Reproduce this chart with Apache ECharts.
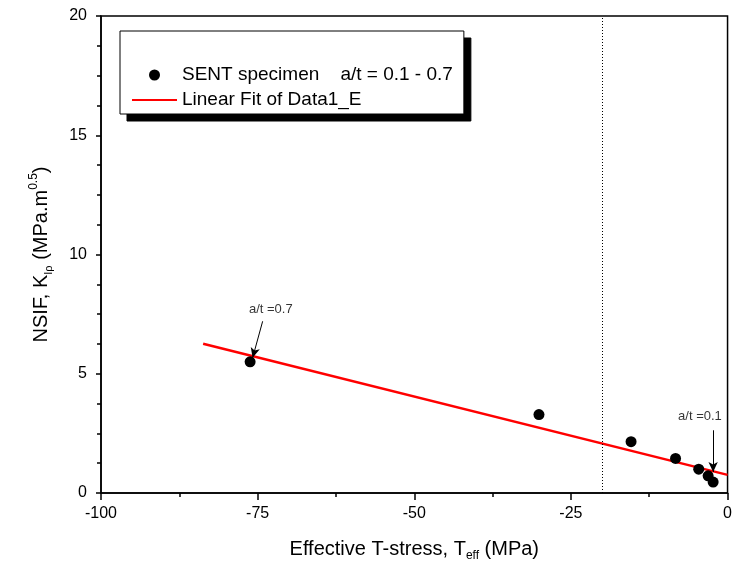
<!DOCTYPE html>
<html>
<head>
<meta charset="utf-8">
<script src="https://cdn.jsdelivr.net/npm/echarts@6/dist/echarts.min.js"></script>
<style>
html,body{margin:0;padding:0;background:#fff;}
#chart{width:735px;height:567px;}
</style>
</head>
<body>
<div id="chart"></div>
<script>
// ---- data ----
const teff = [-76.2, -30.1, -15.4, -8.3, -4.6, -3.1, -2.3];
const nsif = [5.50, 3.29, 2.15, 1.45, 1.00, 0.72, 0.46];
const fitX = [-83.7, 0];
const fitY = [6.26, 0.76];
const xTickValues = [-100, -75, -50, -25, 0];
const yTickValues = [0, 5, 10, 15, 20];
const refLineX = -20;
const annLabels = ['a/t =0.7', 'a/t =0.1'];
const annLabelX = [-72.9, -4.4];
const annLabelY = [7.68, 3.2];
const arrowFromX = [-74.2, -2.3];
const arrowFromY = [7.2, 2.63];
const arrowToX = [-75.8, -2.3];
const arrowToY = [5.67, 0.88];
const seriesNames = ['SENT specimen    a/t = 0.1 - 0.7', 'Linear Fit of Data1_E'];

const FONT = 'Liberation Sans, Arial, sans-serif';
const chart = echarts.init(document.getElementById('chart'));

const scatterData = teff.map((x, i) => [x, nsif[i]]);
const fitData = fitX.map((x, i) => [x, fitY[i]]);
const annData = annLabels.map((t, i) => ({ value: [annLabelX[i], annLabelY[i]], name: t }));
const arrowData = arrowFromX.map((x, i) => [
  { coord: [x, arrowFromY[i]] },
  { coord: [arrowToX[i], arrowToY[i]] }
]);

const legendBase = {
  orient: 'vertical',
  padding: [34, 11, 4, 11],
  itemWidth: 45, itemHeight: 11, itemGap: 5,
  borderColor: '#000', borderWidth: 1,
  selectedMode: false,
  textStyle: { fontFamily: FONT, fontSize: 19, color: '#000', lineHeight: 20 }
};

chart.setOption({
  animation: false,
  backgroundColor: '#fff',
  textStyle: { fontFamily: FONT, color: '#000' },
  grid: {
    left: 101, right: 5, top: 16, bottom: 72,
    show: true, borderColor: '#000', borderWidth: 1.5, backgroundColor: 'transparent'
  },
  legend: [
    Object.assign({}, legendBase, {
      data: [{ name: seriesNames[0] }, { name: seriesNames[1], itemStyle: { opacity: 0 } }],
      left: 120, top: 31, z: 6,
      backgroundColor: '#fff'
    }),
    Object.assign({}, legendBase, {
      data: [{ name: seriesNames[0] }, { name: seriesNames[1], itemStyle: { opacity: 0 } }],
      left: 127, top: 38, z: 5,
      backgroundColor: '#000'
    })
  ],
  xAxis: {
    type: 'value',
    min: xTickValues[0], max: xTickValues[xTickValues.length - 1], interval: 25,
    name: '{m|Effective T-stress, T}{s|eff}{m| (MPa)}',
    nameLocation: 'middle', nameGap: 44,
    nameTextStyle: {
      rich: {
        m: { fontFamily: FONT, fontSize: 20, color: '#000', lineHeight: 24 },
        s: { fontFamily: FONT, fontSize: 12, color: '#000', lineHeight: 12, padding: [14, 0, 0, 0] }
      }
    },
    axisLine: { onZero: false, lineStyle: { color: '#000', width: 1.5 } },
    axisTick: { show: true, inside: false, length: 7, lineStyle: { color: '#000', width: 1.5 } },
    minorTick: { show: true, splitNumber: 2, length: 4, lineStyle: { color: '#000', width: 1.5 } },
    splitLine: { show: false },
    axisLabel: { fontFamily: FONT, fontSize: 16, color: '#000', margin: 13 }
  },
  yAxis: {
    type: 'value',
    min: yTickValues[0], max: yTickValues[yTickValues.length - 1], interval: 5,
    name: '{m|NSIF, K}{s|Iρ}{m| (MPa.m}{p|0.5}{m|)}',
    nameLocation: 'middle', nameGap: 48, nameRotate: 90,
    nameTextStyle: {
      rich: {
        m: { fontFamily: FONT, fontSize: 20, color: '#000', lineHeight: 24 },
        s: { fontFamily: FONT, fontSize: 11, color: '#000', lineHeight: 11, padding: [15, 0, 0, 0] },
        p: { fontFamily: FONT, fontSize: 12, color: '#000', lineHeight: 12, padding: [0, 0, 14, 0] }
      }
    },
    axisLine: { onZero: false, lineStyle: { color: '#000', width: 1.5 } },
    axisTick: { show: true, inside: false, length: 5, lineStyle: { color: '#000', width: 1.5 } },
    minorTick: { show: true, splitNumber: 4, length: 4, lineStyle: { color: '#000', width: 1.5 } },
    splitLine: { show: false },
    axisLabel: { fontFamily: FONT, fontSize: 16, color: '#000', margin: 14 }
  },
  series: [
    {
      name: seriesNames[0],
      type: 'scatter',
      data: scatterData,
      symbol: 'circle',
      symbolSize: 11,
      itemStyle: { color: '#000', opacity: 1 },
      z: 5,
      markLine: {
        silent: true,
        symbol: ['none', 'none'],
        label: { show: false },
        lineStyle: { color: '#000', width: 1, type: [1, 2] },
        data: [{ xAxis: refLineX }]
      }
    },
    {
      name: seriesNames[1],
      type: 'line',
      data: fitData,
      showSymbol: false,
      symbol: 'none',
      lineStyle: { color: '#ff0000', width: 2.5 },
      itemStyle: { color: '#ff0000' },
      z: 4
    },
    {
      name: 'annotations',
      type: 'scatter',
      data: annData,
      symbolSize: 1,
      itemStyle: { color: 'rgba(0,0,0,0)' },
      silent: true,
      label: {
        show: true, position: 'inside',
        formatter: p => p.name,
        fontFamily: FONT, fontSize: 13, color: '#000'
      },
      markLine: {
        silent: true,
        symbol: ['none', 'arrow'],
        symbolSize: [7, 10],
        label: { show: false },
        lineStyle: { color: '#000', width: 1, type: 'solid' },
        data: arrowData
      },
      z: 6
    }
  ]
});
</script>
</body>
</html>
